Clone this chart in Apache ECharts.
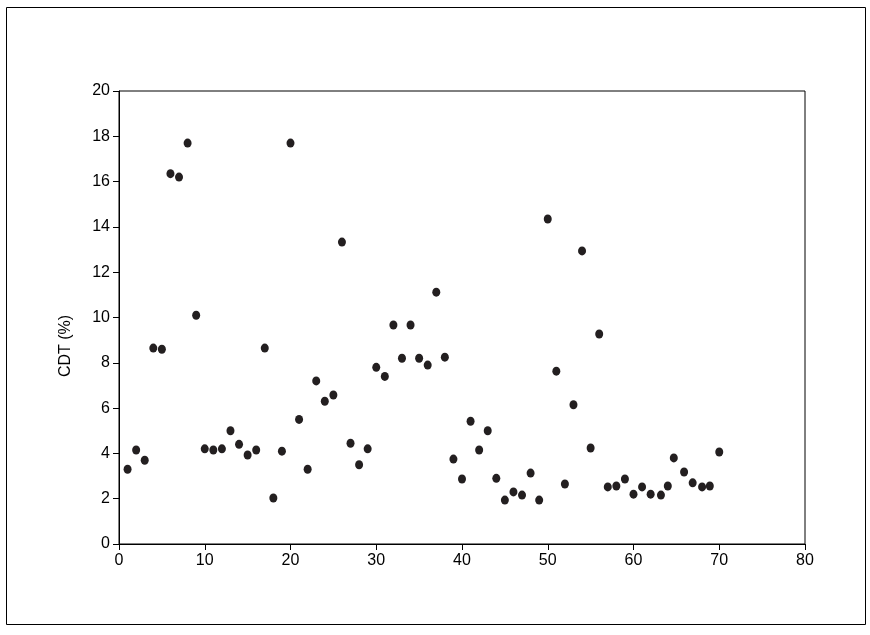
<!DOCTYPE html>
<html>
<head>
    <meta charset="utf-8">
    <title>CDT scatter</title>
    <script src="https://cdn.jsdelivr.net/npm/echarts@6/dist/echarts.min.js"></script>
    <style>
        html, body { margin: 0; padding: 0; background: #fff; }
    </style>
</head>
<body>
    <div id="main" style="width: 870px;height:635px;"></div>
    <script type="text/javascript">
        // sample number (x) and CDT % (y)
        var sampleNo = [
            1, 2, 3, 4, 5, 6, 7, 8, 9, 10,
            11, 12, 13, 14, 15, 16, 17, 18, 19, 20,
            21, 22, 23, 24, 25, 26, 27, 28, 29, 30,
            31, 32, 33, 34, 35, 36, 37, 38, 39, 40,
            41, 42, 43, 44, 45, 46, 47, 48, 49, 50,
            51, 52, 53, 54, 55, 56, 57, 58, 59, 60,
            61, 62, 63.2, 64, 64.7, 65.9, 66.9, 68, 68.9, 70
        ];
        var cdtValues = [
            3.3, 4.15, 3.7, 8.65, 8.6, 16.35, 16.2, 17.7, 10.1, 4.2,
            4.15, 4.2, 5.0, 4.4, 3.93, 4.15, 8.65, 2.03, 4.1, 17.7,
            5.5, 3.3, 7.2, 6.3, 6.58, 13.33, 4.45, 3.5, 4.2, 7.8,
            7.4, 9.67, 8.2, 9.67, 8.2, 7.9, 11.12, 8.25, 3.75, 2.87,
            5.42, 4.15, 5.0, 2.9, 1.94, 2.3, 2.16, 3.13, 1.94, 14.35,
            7.63, 2.65, 6.15, 12.94, 4.24, 9.27, 2.52, 2.56, 2.87, 2.2,
            2.52, 2.2, 2.16, 2.56, 3.8, 3.18, 2.7, 2.52, 2.56, 4.06
        ];
        var yTitle = 'CDT (%)';

        var dom = document.getElementById("main");
        var myChart = echarts.init(dom);

        var points = [];
        for (var i = 0; i < sampleNo.length; i++) {
            points.push([sampleNo[i], cdtValues[i]]);
        }

        var labelFont = { color: '#000', fontSize: 16, fontFamily: 'Liberation Sans, Arial, sans-serif' };

        var option = {
            backgroundColor: '#fff',
            animation: false,
            grid: {
                left: 119,
                top: 91,
                width: 686,
                height: 453,
                show: true,
                borderColor: '#000',
                borderWidth: 1,
                backgroundColor: 'transparent'
            },
            xAxis: {
                type: 'value',
                min: 0,
                max: 80,
                interval: 10,
                splitLine: { show: false },
                axisLine: { onZero: false, lineStyle: { color: '#000', width: 1 } },
                axisTick: { inside: false, length: 6, lineStyle: { color: '#000' } },
                axisLabel: Object.assign({ margin: 9 }, labelFont)
            },
            yAxis: {
                type: 'value',
                min: 0,
                max: 20,
                interval: 2,
                splitLine: { show: false },
                axisLine: { show: true, onZero: false, lineStyle: { color: '#000', width: 1 } },
                axisTick: { show: true, inside: false, length: 6, lineStyle: { color: '#000' } },
                axisLabel: Object.assign({ margin: 9 }, labelFont)
            },
            graphic: [
                {
                    type: 'rect',
                    shape: { x: 6.5, y: 7.5, width: 859, height: 617 },
                    style: { fill: 'none', stroke: '#000', lineWidth: 1 },
                    silent: true
                },
                {
                    type: 'text',
                    x: 66,
                    y: 346,
                    rotation: Math.PI / 2,
                    style: {
                        text: yTitle,
                        fill: '#000',
                        fontSize: 16,
                        fontFamily: 'Liberation Sans, Arial, sans-serif',
                        align: 'center',
                        verticalAlign: 'middle'
                    }
                }
            ],
            series: [{
                type: 'scatter',
                data: points,
                symbol: 'circle',
                symbolSize: [8, 9],
                itemStyle: { color: '#231f20', opacity: 1 }
            }]
        };
        myChart.setOption(option, true);
    </script>
</body>
</html>
